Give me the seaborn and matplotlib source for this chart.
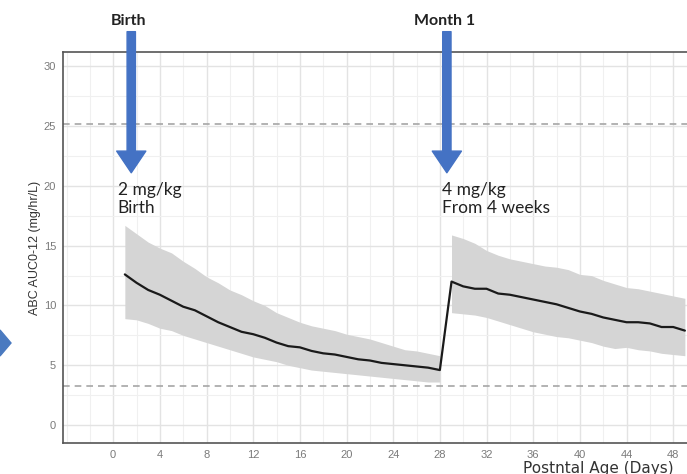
import numpy as np
import pandas as pd
import matplotlib
matplotlib.use("Agg")
import matplotlib.pyplot as plt
import seaborn as sns
from matplotlib.patches import Polygon
from matplotlib.ticker import MultipleLocator

# Tramo 1: 2 mg/kg desde el nacimiento (días 1-28)
dias_1 = list(range(1, 29))
mediana_1 = [12.6, 11.9, 11.3, 10.9, 10.4, 9.9, 9.6, 9.1, 8.6, 8.2, 7.8, 7.6, 7.3, 6.9,
             6.6, 6.5, 6.2, 6.0, 5.9, 5.7, 5.5, 5.4, 5.2, 5.1, 5.0, 4.9, 4.8, 4.6]
sup_1 = [16.7, 16.0, 15.3, 14.8, 14.4, 13.7, 13.1, 12.4, 11.9, 11.3, 10.9, 10.4, 10.0, 9.4,
         9.0, 8.6, 8.3, 8.1, 7.9, 7.6, 7.4, 7.2, 6.9, 6.6, 6.3, 6.2, 6.0, 5.8]
inf_1 = [8.9, 8.8, 8.5, 8.1, 7.9, 7.5, 7.2, 6.9, 6.6, 6.3, 6.0, 5.7, 5.5, 5.3,
         5.0, 4.8, 4.6, 4.5, 4.4, 4.3, 4.2, 4.1, 4.0, 3.9, 3.8, 3.7, 3.6, 3.6]

# Tramo 2: 4 mg/kg desde las 4 semanas (días 29-49)
dias_2 = list(range(29, 50))
mediana_2 = [12.0, 11.6, 11.4, 11.4, 11.0, 10.9, 10.7, 10.5, 10.3, 10.1, 9.8, 9.5, 9.3, 9.0,
             8.8, 8.6, 8.6, 8.5, 8.2, 8.2, 7.9]
sup_2 = [15.9, 15.6, 15.2, 14.6, 14.2, 13.9, 13.7, 13.5, 13.3, 13.2, 13.0, 12.6, 12.5, 12.1,
         11.8, 11.5, 11.4, 11.2, 11.0, 10.8, 10.6]
inf_2 = [9.4, 9.3, 9.2, 9.0, 8.7, 8.4, 8.1, 7.8, 7.6, 7.4, 7.3, 7.1, 6.9, 6.6,
         6.4, 6.5, 6.3, 6.2, 6.0, 5.9, 5.8]

# Límites objetivo
limite_sup = 25.2
limite_inf = 3.25

# Ejes
x_ticks = list(range(0, 49, 4))
y_ticks = [0, 5, 10, 15, 20, 25, 30]

# Eventos de dosis
eventos = ["Birth", "Month 1"]
eventos_x = [1.55, 28.6]
dosis_txt = ["2 mg/kg\nBirth", "4 mg/kg\nFrom 4 weeks"]
dosis_x = [0.4, 28.2]

df = pd.DataFrame({"dia": dias_1 + dias_2, "auc": mediana_1 + mediana_2})

sns.set_theme(style="white")
plt.rcParams["font.family"] = ["Liberation Sans", "DejaVu Sans"]

fig = plt.figure(figsize=(6.87, 4.74), dpi=100)
ax = fig.add_axes([63 / 687, 1 - 443 / 474, 1 - 63 / 687 + 0.002, (443 - 52) / 474])

# Rejilla estilo ggplot (theme_bw)
ax.set_xticks(x_ticks)
ax.set_yticks(y_ticks)
ax.xaxis.set_minor_locator(MultipleLocator(2))
ax.yaxis.set_minor_locator(MultipleLocator(2.5))
ax.grid(which="major", color="#e3e3e3", linewidth=1.0)
ax.grid(which="minor", color="#f0f0f0", linewidth=0.8)
ax.set_axisbelow(True)

# Bandas de predicción
ax.fill_between(dias_1, inf_1, sup_1, color="#d5d5d5", linewidth=0)
ax.fill_between(dias_2, inf_2, sup_2, color="#d5d5d5", linewidth=0)

# Mediana
sns.lineplot(data=df, x="dia", y="auc", color="#1a1a1a", linewidth=1.6, ax=ax)

# Límites
ax.axhline(limite_sup, color="#a6a6a6", linestyle=(0, (4, 3)), linewidth=1.2)
ax.axhline(limite_inf, color="#a6a6a6", linestyle=(0, (4, 3)), linewidth=1.2)

ax.set_xlim(-4.3, 49.3)
ax.set_ylim(-1.5, 31.2)

for side in ["left", "bottom", "top"]:
    ax.spines[side].set_color("#555555")
    ax.spines[side].set_linewidth(1.2)
ax.spines["right"].set_visible(False)

ax.tick_params(axis="both", which="major", length=3, width=0.8, color="#555555",
               labelsize=8, labelcolor="#7a7a7a", pad=2)
ax.tick_params(which="minor", length=0)

ax.set_xlabel("")
ax.set_ylabel("ABC AUC0-12 (mg/hr/L)", fontsize=9, color="#333333", labelpad=2)

# Flechas de dosis
for nombre, x in zip(eventos, eventos_x):
    ax.annotate("", xy=(x, 21.1), xytext=(x, 32.9), annotation_clip=False,
                arrowprops=dict(arrowstyle="simple,head_width=1.75,head_length=1.3,tail_width=0.5",
                                color="#4472c4", shrinkA=0, shrinkB=0))
    ax.text(x - 0.2, 33.8, nombre, ha="center", va="center", fontsize=11.5,
            fontweight="bold", color="#222222", family=["Lato", "DejaVu Sans"], clip_on=False)

for txt, x in zip(dosis_txt, dosis_x):
    ax.text(x, 20.3, txt, ha="left", va="top", fontsize=12.5, color="#222222",
            linespacing=1.1, family=["Lato", "DejaVu Sans"])

fig.text(523 / 687, 1 - 468 / 474, "Postntal Age (Days)", ha="left", va="center",
         fontsize=11, color="#333333", family=["DejaVu Sans"])

# Punta de flecha azul del margen izquierdo
fig.patches.append(Polygon([[0, 1 - 330 / 474], [11 / 687, 1 - 343 / 474], [0, 1 - 356 / 474]],
                           closed=True, transform=fig.transFigure, color="#4a7ac0"))

fig.savefig("out.png", dpi=100)
